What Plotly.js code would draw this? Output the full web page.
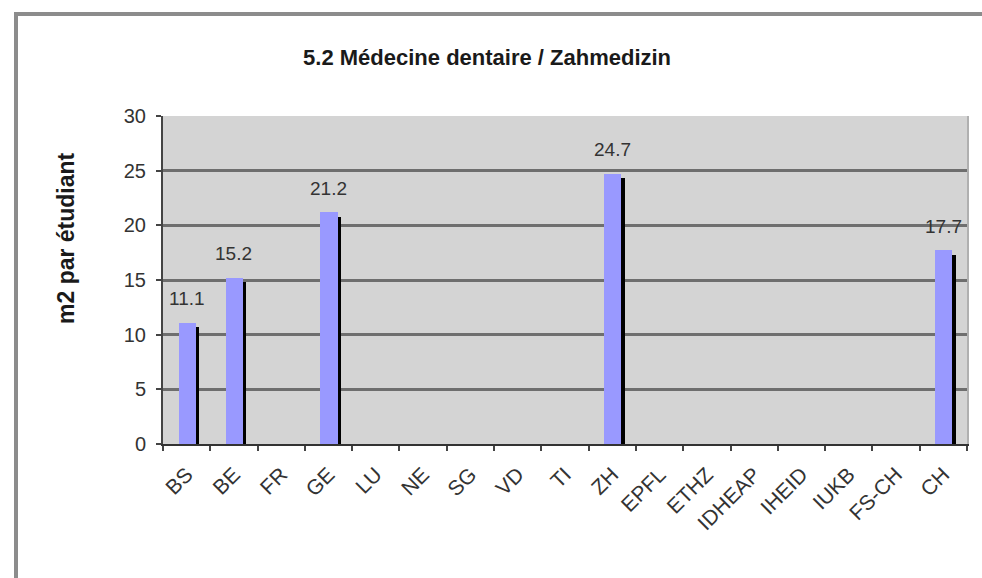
<!DOCTYPE html>
<html>
<head>
<meta charset="utf-8">
<script src="https://cdn.plot.ly/plotly-3.0.1.min.js"></script>
<style>
  html, body { margin: 0; padding: 0; background: #ffffff; }
  #frame { position: absolute; left: 14px; top: 12px; width: 968px; height: 566px;
           border-top: 4px solid #8c8c8c; border-left: 4px solid #8c8c8c; box-sizing: border-box; }
  #chart { position: absolute; left: 0; top: 0; width: 982px; height: 578px; }
</style>
</head>
<body>
<div id="frame"></div>
<div id="chart"></div>
<script>
const categories = ["BS","BE","FR","GE","LU","NE","SG","VD","TI","ZH","EPFL","ETHZ","IDHEAP","IHEID","IUKB","FS-CH","CH"];
const values = [11.1, 15.2, null, 21.2, null, null, null, null, null, 24.7, null, null, null, null, null, null, 17.7];
const yTickVals = [0, 5, 10, 15, 20, 25, 30];
const titleText = "5.2 Médecine dentaire / Zahmedizin";
const yTitleText = "m2 par étudiant";

const FONT = "Liberation Sans, Arial, sans-serif";
const SHADOW_DROP = 0.4;

const shadowValues = values.map(v => v === null ? null : v - SHADOW_DROP);

const shadow = {
  type: "bar", x: categories, y: shadowValues,
  width: 0.36, offset: -0.095,
  marker: { color: "#000000", line: { width: 0 } },
  hoverinfo: "skip", showlegend: false
};
const bars = {
  type: "bar", x: categories, y: values,
  width: 0.36, offset: -0.17,
  marker: { color: "#9999ff", line: { width: 0 } },
  showlegend: false
};
const rightEdge = {
  type: "scatter", x: categories, y: values.map(() => null), yaxis: "y2",
  showlegend: false, hoverinfo: "skip"
};

const labelAnnotations = [];
categories.forEach((c, i) => {
  if (values[i] !== null) {
    labelAnnotations.push({
      x: c, y: values[i], xref: "x", yref: "y",
      text: values[i].toFixed(1), showarrow: false, yshift: 24,
      font: { family: FONT, size: 19, color: "#333333" }
    });
  }
});

const layout = {
  width: 982, height: 578,
  margin: { l: 163, r: 15, t: 116, b: 134, pad: 0 },
  paper_bgcolor: "rgba(0,0,0,0)",
  plot_bgcolor: "#d4d4d4",
  barmode: "overlay",
  bargap: 0,
  title: {
    text: "<b>" + titleText + "</b>",
    font: { family: FONT, size: 22, color: "#1a1a1a" },
    xref: "container", x: 0.496, xanchor: "center",
    yref: "container", y: 1 - 57 / 578, yanchor: "middle"
  },
  xaxis: {
    type: "category",
    categoryorder: "array", categoryarray: categories,
    range: [-0.5, categories.length - 0.5],
    tickson: "boundaries",
    ticks: "outside", ticklen: 5, tickwidth: 2, tickcolor: "#444444",
    tickangle: -45,
    ticklabelstandoff: 8,
    tickfont: { family: FONT, size: 21, color: "#333333" },
    showline: true, linecolor: "#333333", linewidth: 2,
    showgrid: false, zeroline: false, fixedrange: true
  },
  yaxis: {
    range: [0, 30], tickvals: yTickVals, ticktext: yTickVals.map(String),
    ticks: "outside", ticklen: 5, tickwidth: 2, tickcolor: "#444444",
    ticklabelstandoff: 6,
    tickfont: { family: FONT, size: 20, color: "#333333" },
    showline: true, linecolor: "#444444", linewidth: 2,
    showgrid: true, gridcolor: "#6e6e6e", gridwidth: 3,
    zeroline: false, fixedrange: true
  },
  yaxis2: {
    overlaying: "y", side: "right", range: [0, 30],
    showline: true, linecolor: "#b0b0b0", linewidth: 2,
    showgrid: false, showticklabels: false, ticks: "", zeroline: false
  },
  annotations: labelAnnotations.concat([{
    text: "<b>" + yTitleText + "</b>", showarrow: false, textangle: -90,
    xref: "paper", yref: "paper", x: (66 - 163) / 804, y: (444 - 238) / 328,
    xanchor: "center", yanchor: "middle",
    font: { family: FONT, size: 23, color: "#1a1a1a" }
  }])
};

Plotly.newPlot("chart", [shadow, bars, rightEdge], layout, { displayModeBar: false, staticPlot: true });
</script>
</body>
</html>
